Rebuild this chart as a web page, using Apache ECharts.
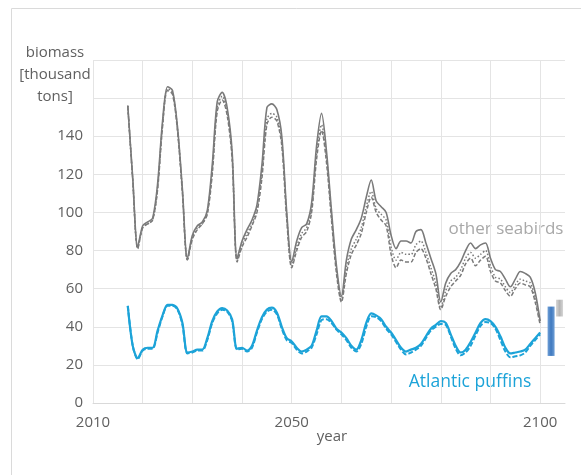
<!DOCTYPE html>
<html>
<head>
<meta charset="utf-8">
<script src="https://cdn.jsdelivr.net/npm/echarts@6/dist/echarts.min.js"></script>
<style>
  html, body { margin: 0; padding: 0; background: #fff; }
  #chart { width: 581px; height: 475px; }
</style>
</head>
<body>
<div id="chart"></div>
<script>
// Simulated biomass (thousand tons) per year, 2017–2100
const years = [];
for (let y = 2017; y <= 2100; y++) years.push(y);

// other seabirds: three scenarios (solid, dotted, dashed)
const seabirdsSolid = [
  156, 118, 82, 93, 95, 97, 115, 148, 166, 164,
  145, 112, 76, 88, 93, 95, 101, 125, 158, 163,
  155, 132, 76, 85, 91, 96, 104, 125, 155, 157,
  154, 140, 100, 74, 85, 92, 94, 105, 135, 152,
  132, 101, 72, 56, 75, 86, 91, 97, 108, 117,
  106, 103, 100, 88, 81, 85, 85, 84, 90, 91,
  84, 76, 68, 53, 63, 68, 70, 74, 80, 84,
  81, 83, 84, 76, 70, 69, 65, 61, 65, 69,
  68, 66, 58, 43
];
const seabirdsDotted = [
  156, 117, 81, 92, 94, 96, 113, 146, 165, 163,
  144, 111, 75, 87, 92, 94, 100, 122, 155, 161,
  153, 130, 75, 83, 89, 94, 102, 121, 149, 152,
  150, 137, 98, 72, 82, 89, 92, 102, 131, 146,
  129, 98, 70, 54, 71, 81, 86, 92, 103, 111,
  102, 99, 96, 82, 75, 79, 78, 78, 83, 85,
  79, 71, 63, 50, 59, 64, 66, 70, 76, 79,
  76, 78, 80, 72, 66, 65, 61, 58, 62, 65,
  64, 63, 55, 42
];
const seabirdsDashed = [
  156, 117, 81, 92, 94, 96, 112, 145, 164, 162,
  143, 110, 75, 86, 91, 94, 99, 120, 153, 159,
  151, 128, 74, 82, 87, 93, 100, 118, 146, 150,
  148, 135, 96, 71, 80, 87, 90, 100, 128, 143,
  126, 96, 68, 53, 68, 78, 83, 89, 100, 108,
  100, 96, 93, 78, 71, 75, 74, 74, 79, 81,
  76, 68, 60, 49, 56, 61, 64, 67, 73, 76,
  72, 75, 77, 69, 64, 63, 59, 56, 60, 63,
  62, 61, 53, 41
];

// Atlantic puffins: two scenarios (solid, dashed)
const puffinsSolid = [
  51, 30, 23.5, 28, 29, 29, 38, 46, 51.5, 51.5,
  49.5, 42, 26.5, 27, 28, 28, 34, 43, 48, 49.8,
  48.5, 44, 28.5, 29, 27.5, 30, 38, 45, 49, 50,
  47.5, 40, 34, 32.3, 29, 27, 28, 30, 38, 45.5,
  45.5, 43, 39, 37, 34, 30, 28, 33, 42, 47,
  46, 44, 40, 37, 33, 29, 27, 28, 29, 31,
  35, 39, 41, 43, 42, 36, 30, 26.5, 28, 32,
  37, 42, 44, 43, 40, 35, 29, 26, 26.5, 27,
  28, 31, 34, 37
];
const puffinsDashed = [
  51, 30, 23, 27.5, 28.5, 28.5, 37, 45.5, 51, 51,
  49, 41, 26, 26.5, 27.5, 27.5, 33, 42, 47, 49,
  48, 43, 28, 28.5, 27, 29, 37, 44, 48, 49,
  46.5, 39, 33, 31.5, 28, 26, 27, 29, 36, 43.5,
  44, 42, 38.5, 36, 33, 29, 27, 31, 40, 45.5,
  45, 43, 39, 36, 32, 28, 25.5, 26.5, 28, 30,
  34, 38, 40, 41.5, 41, 35, 28.5, 25, 26.5, 30,
  35.5, 40.5, 42.5, 42, 39, 33, 27, 24, 24.5, 25,
  26.5, 30, 33, 36
];

// Observed ranges shown to the right of the projections: [year, low, high]
const puffinRange = [[2102.2, 24.7, 50.6]];
const seabirdRange = [[2103.9, 45.4, 54.2]];

// x-axis labels that are printed
const yearLabels = [2010, 2050, 2100];

const pair = (vals) => years.map((y, i) => [y, vals[i]]);

const rangeBar = (fill) => function (params, api) {
  const x = api.value(0);
  const top = api.coord([x, api.value(2)]);
  const bottom = api.coord([x, api.value(1)]);
  const w = 7;
  return {
    type: 'rect',
    shape: { x: top[0] - w / 2, y: top[1], width: w, height: bottom[1] - top[1] },
    style: { fill: fill }
  };
};

const FONT = 'Open Sans';
const GREY = '#7a7a7a';
const BLUE = '#1ca3d8';

const chart = echarts.init(document.getElementById('chart'), null, { renderer: 'canvas' });
chart.setOption({
  animation: false,
  backgroundColor: '#ffffff',
  grid: { left: 93, right: 16, top: 60, bottom: 72, containLabel: false },
  xAxis: {
    type: 'value',
    min: 2010, max: 2105, interval: 10,
    axisLine: { show: true, lineStyle: { color: '#d9d9d9', width: 1 } },
    axisTick: { show: false },
    splitLine: { show: true, showMaxLine: false, lineStyle: { color: '#e4e4e4', width: 1 } },
    axisLabel: {
      margin: 12, color: '#606060', fontFamily: FONT, fontSize: 15,
      showMaxLabel: false,
      formatter: (v) => (yearLabels.indexOf(v) >= 0 ? String(v) : '')
    }
  },
  yAxis: {
    type: 'value',
    min: 0, max: 180, interval: 20,
    axisLine: { show: false },
    axisTick: { show: false },
    splitLine: { show: true, lineStyle: { color: '#e4e4e4', width: 1 } },
    axisLabel: {
      margin: 10, color: '#606060', fontFamily: FONT, fontSize: 15,
      formatter: (v) => (v <= 140 ? String(v) : '')
    }
  },
  series: [
    { name: 'seabirds dashed', type: 'line', data: pair(seabirdsDashed), showSymbol: false, smooth: 0.3,
      lineStyle: { color: GREY, width: 1.5, type: [4, 2] } },
    { name: 'seabirds dotted', type: 'line', data: pair(seabirdsDotted), showSymbol: false, smooth: 0.3,
      lineStyle: { color: GREY, width: 1.5, type: [1.5, 2] } },
    { name: 'seabirds', type: 'line', data: pair(seabirdsSolid), showSymbol: false, smooth: 0.3,
      lineStyle: { color: GREY, width: 1.6 } },
    { name: 'puffins dashed', type: 'line', data: pair(puffinsDashed), showSymbol: false, smooth: 0.3,
      lineStyle: { color: BLUE, width: 2, type: [5, 2] } },
    { name: 'puffins', type: 'line', data: pair(puffinsSolid), showSymbol: false, smooth: 0.3,
      lineStyle: { color: BLUE, width: 2.2 } },
    { name: 'puffin range', type: 'custom', data: puffinRange, clip: false,
      encode: { x: 0, y: [1, 2] },
      renderItem: rangeBar(new echarts.graphic.LinearGradient(0, 0, 1, 0, [
        { offset: 0, color: '#6f9fd6' }, { offset: 0.5, color: '#3f79bf' }, { offset: 1, color: '#6f9fd6' }
      ])) },
    { name: 'seabird range', type: 'custom', data: seabirdRange, clip: false,
      encode: { x: 0, y: [1, 2] },
      renderItem: rangeBar(new echarts.graphic.LinearGradient(0, 0, 1, 0, [
        { offset: 0, color: '#d6d6d6' }, { offset: 0.5, color: '#b4b4b4' }, { offset: 1, color: '#d6d6d6' }
      ])) }
  ],
  graphic: [
    { type: 'rect', left: 9, top: 6, silent: true,
      shape: { width: 700, height: 600 },
      style: { fill: 'none', stroke: '#dadada', lineWidth: 1 } },
    { type: 'text', x: 55, y: 53, silent: true,
      style: { text: 'biomass', fill: '#606060', font: '15px "Open Sans"', align: 'center', verticalAlign: 'middle' } },
    { type: 'text', x: 55, y: 75, silent: true,
      style: { text: '[thousand', fill: '#606060', font: '15px "Open Sans"', align: 'center', verticalAlign: 'middle' } },
    { type: 'text', x: 55, y: 97, silent: true,
      style: { text: 'tons]', fill: '#606060', font: '15px "Open Sans"', align: 'center', verticalAlign: 'middle' } },
    { type: 'text', x: 332, y: 437, silent: true,
      style: { text: 'year', fill: '#606060', font: '15px "Open Sans"', align: 'center', verticalAlign: 'middle' } },
    { type: 'text', x: 506, y: 229, silent: true,
      style: { text: 'other seabirds', fill: '#a8a8a8', font: '17px "Open Sans"', align: 'center', verticalAlign: 'middle' } },
    { type: 'text', x: 470, y: 382, silent: true,
      style: { text: 'Atlantic puffins', fill: BLUE, font: '17.5px "Open Sans"', align: 'center', verticalAlign: 'middle' } }
  ]
});
</script>
</body>
</html>
